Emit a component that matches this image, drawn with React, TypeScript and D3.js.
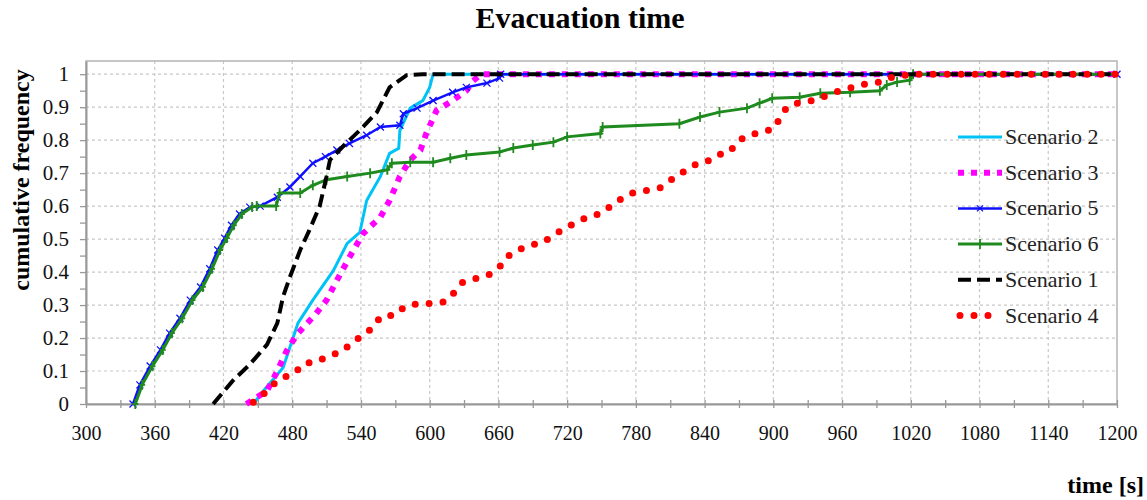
import React, { useEffect, useRef } from "react";
import * as d3 from "d3";

// ---- data ----
const s1Time = [411, 428, 443, 458, 467, 472, 478, 487, 495, 504, 510, 513, 524, 539, 554, 565, 580, 594, 1200];
const s1Freq = [0, 0.07, 0.12, 0.18, 0.245, 0.325, 0.385, 0.467, 0.527, 0.6, 0.69, 0.74, 0.78, 0.83, 0.885, 0.96, 0.997, 1, 1];

const s2Time = [446, 455, 472, 485, 498, 510, 516, 528, 539, 545, 557, 565, 573, 574, 583, 594, 600, 603, 1200];
const s2Freq = [0, 0.04, 0.11, 0.245, 0.315, 0.375, 0.405, 0.487, 0.52, 0.617, 0.69, 0.76, 0.775, 0.83, 0.897, 0.92, 0.96, 1, 1];

const s3Time = [440, 458, 467, 475, 484, 490, 501, 510, 519, 530, 542, 557, 565, 574, 583, 592, 597, 606, 620, 632, 638, 645, 1200];
const s3Freq = [0, 0.04, 0.1, 0.16, 0.21, 0.233, 0.275, 0.315, 0.375, 0.445, 0.517, 0.567, 0.617, 0.69, 0.74, 0.77, 0.82, 0.89, 0.92, 0.95, 0.98, 1, 1];

const s4Time = [446, 455, 463, 472, 482, 490, 501, 513, 523, 532, 542, 551, 557, 570, 578, 590, 602, 613, 622, 629, 640, 651, 661, 667, 677, 688, 699, 708, 718, 729, 738, 750, 759, 768, 777, 790, 801, 811, 821, 830, 840, 851, 862, 868, 878, 890, 901, 906, 912, 923, 935, 947, 958, 969, 982, 993, 1003, 1016, 1025, 1200];
const s4Freq = [0.005, 0.03, 0.058, 0.08, 0.093, 0.123, 0.127, 0.148, 0.158, 0.185, 0.21, 0.233, 0.265, 0.27, 0.295, 0.305, 0.305, 0.31, 0.34, 0.37, 0.38, 0.39, 0.415, 0.445, 0.467, 0.482, 0.49, 0.512, 0.533, 0.552, 0.568, 0.578, 0.603, 0.624, 0.64, 0.648, 0.655, 0.68, 0.703, 0.724, 0.73, 0.755, 0.764, 0.794, 0.815, 0.824, 0.836, 0.87, 0.9, 0.915, 0.92, 0.936, 0.95, 0.96, 0.972, 0.976, 0.99, 0.997, 1, 1];

const s5Time = [341, 347, 356, 365, 373, 382, 391, 400, 408, 415, 421, 427, 434, 443, 452, 467, 478, 487, 498, 509, 519, 530, 545, 557, 574, 577, 589, 603, 620, 632, 650, 661, 662, 1200];
const s5Freq = [0, 0.058, 0.115, 0.164, 0.215, 0.26, 0.315, 0.355, 0.41, 0.467, 0.503, 0.542, 0.576, 0.597, 0.6, 0.627, 0.658, 0.69, 0.73, 0.75, 0.77, 0.79, 0.815, 0.84, 0.845, 0.88, 0.897, 0.92, 0.945, 0.96, 0.973, 0.988, 1, 1];

const s6Time = [343, 349, 358, 367, 375, 384, 393, 402, 410, 417, 423, 429, 436, 445, 449, 466, 469, 487, 498, 510, 528, 548, 563, 567, 583, 603, 618, 632, 661, 673, 690, 708, 720, 749, 751, 818, 836, 853, 877, 888, 899, 923, 941, 967, 993, 999, 1008, 1019, 1022, 1200];
const s6Freq = [0, 0.058, 0.115, 0.164, 0.215, 0.26, 0.315, 0.355, 0.41, 0.467, 0.503, 0.542, 0.576, 0.597, 0.6, 0.6, 0.64, 0.64, 0.663, 0.68, 0.69, 0.7, 0.71, 0.73, 0.733, 0.733, 0.745, 0.755, 0.764, 0.776, 0.785, 0.794, 0.81, 0.82, 0.84, 0.85, 0.87, 0.885, 0.897, 0.912, 0.927, 0.93, 0.942, 0.945, 0.95, 0.967, 0.976, 0.982, 1, 1];

const xTicks = d3.range(300, 1201, 30);
const yTicks = d3.range(0, 1.0001, 0.05);

const series = [
  { name: "Scenario 2", t: s2Time, f: s2Freq, color: "#00c3f5", width: 3, dash: null, cap: "butt", marker: null },
  { name: "Scenario 3", t: s3Time, f: s3Freq, color: "#ff00ff", width: 6, dash: "6,7", cap: "butt", marker: null },
  { name: "Scenario 5", t: s5Time, f: s5Freq, color: "#1010ff", width: 2.5, dash: null, cap: "butt", marker: "x" },
  { name: "Scenario 6", t: s6Time, f: s6Freq, color: "#1f8b1f", width: 3, dash: null, cap: "butt", marker: "+" },
  { name: "Scenario 1", t: s1Time, f: s1Freq, color: "#000000", width: 4, dash: "13,6", cap: "butt", marker: null },
  { name: "Scenario 4", t: s4Time, f: s4Freq, color: "#ff0000", width: 7, dash: "0,14", cap: "round", marker: null },
];

const FONT = "'Liberation Serif', 'Times New Roman', serif";

export default function App() {
  const ref = useRef<SVGSVGElement>(null);

  useEffect(() => {
    const width = 1147, height = 500;
    const left = 86, right = 1117, bottom = 404, top = 61;

    const svg = d3.select(ref.current).attr("width", width).attr("height", height);
    svg.selectAll("*").remove();

    const x = d3.scaleLinear().domain([300, 1200]).range([left, right]);
    const y = d3.scaleLinear().domain([0, 1.04]).range([bottom, top]);

    // grid
    svg.append("g").selectAll("line").data(d3.range(0.1, 1.0001, 0.1)).join("line")
      .attr("x1", left).attr("x2", right).attr("y1", (d) => y(d)).attr("y2", (d) => y(d))
      .attr("stroke", "#c8c8c8").attr("stroke-width", 1.2).attr("stroke-dasharray", "3,3");
    svg.append("g").selectAll("line").data(d3.range(360, 1141, 60)).join("line")
      .attr("x1", (d) => x(d)).attr("x2", (d) => x(d)).attr("y1", top).attr("y2", bottom)
      .attr("stroke", "#c8c8c8").attr("stroke-width", 1.2).attr("stroke-dasharray", "3,3");

    // plot frame
    svg.append("rect").attr("x", left).attr("y", top).attr("width", right - left).attr("height", bottom - top)
      .attr("fill", "none").attr("stroke", "#b4b4b4").attr("stroke-width", 1.5);

    // axes
    const xAxis = svg.append("g").attr("transform", `translate(0,${bottom})`)
      .call(d3.axisBottom(x).tickValues(xTicks).tickSize(4).tickSizeOuter(0).tickPadding(18)
        .tickFormat((d: any) => (d % 60 === 0 ? String(d) : "")));
    xAxis.selectAll(".tick line").attr("y1", -4).attr("stroke", "#999").attr("stroke-width", 1.3);
    xAxis.select(".domain").attr("stroke", "#999").attr("stroke-width", 2);
    xAxis.selectAll("text").attr("font-family", FONT).attr("font-size", 20).attr("fill", "#111");

    const yAxis = svg.append("g").attr("transform", `translate(${left},0)`)
      .call(d3.axisLeft(y).tickValues(yTicks).tickSize(6).tickSizeOuter(0).tickPadding(11)
        .tickFormat((d: any) => (Math.round(d * 20) % 2 === 0 ? String(+d.toFixed(1)) : "")));
    yAxis.selectAll(".tick line").attr("stroke", "#999").attr("stroke-width", 1.3);
    yAxis.select(".domain").attr("stroke", "#999").attr("stroke-width", 2);
    yAxis.selectAll("text").attr("font-family", FONT).attr("font-size", 21).attr("fill", "#111");

    // series
    const line = d3.line<[number, number]>().x((d) => x(d[0])).y((d) => y(d[1]));
    series.forEach((s) => {
      const pts = s.t.map((t, i) => [t, s.f[i]] as [number, number]);
      svg.append("path").datum(pts).attr("d", line).attr("fill", "none")
        .attr("stroke", s.color).attr("stroke-width", s.width)
        .attr("stroke-dasharray", s.dash).attr("stroke-linecap", s.cap);
      if (s.marker === "x") {
        svg.append("g").selectAll("path").data(pts).join("path")
          .attr("d", (d) => { const cx = x(d[0]), cy = y(d[1]), r = 3.5; return `M${cx - r},${cy - r}L${cx + r},${cy + r}M${cx - r},${cy + r}L${cx + r},${cy - r}`; })
          .attr("stroke", s.color).attr("stroke-width", 1.3);
      } else if (s.marker === "+") {
        svg.append("g").selectAll("path").data(pts.slice(0, -1)).join("path")
          .attr("d", (d) => { const cx = x(d[0]), cy = y(d[1]), r = 5; return `M${cx},${cy - r}L${cx},${cy + r}M${cx - 3},${cy}L${cx + 3},${cy}`; })
          .attr("stroke", s.color).attr("stroke-width", 1.8);
      }
    });

    // legend
    const lg = svg.append("g");
    series.forEach((s, i) => {
      const ly = 137 + i * 35.7;
      lg.append("line").attr("x1", s.cap === "round" ? 960 : 958).attr("x2", s.cap === "round" ? 990 : 1002)
        .attr("y1", ly).attr("y2", ly).attr("stroke", s.color).attr("stroke-width", s.width)
        .attr("stroke-dasharray", s.dash).attr("stroke-linecap", s.cap);
      if (s.marker === "x") {
        lg.append("path").attr("d", `M977,${ly - 3}L983,${ly + 3}M977,${ly + 3}L983,${ly - 3}`).attr("stroke", s.color).attr("stroke-width", 1.3);
      } else if (s.marker === "+") {
        lg.append("path").attr("d", `M980,${ly - 5}L980,${ly + 5}`).attr("stroke", s.color).attr("stroke-width", 1.8);
      }
      lg.append("text").attr("x", 1005).attr("y", ly + 7).attr("font-family", FONT).attr("font-size", 22)
        .attr("fill", "#222").text(s.name);
    });

    // titles
    svg.append("text").attr("x", 580).attr("y", 28).attr("text-anchor", "middle").attr("font-family", FONT)
      .attr("font-size", 30).attr("font-weight", "bold").text("Evacuation time");
    svg.append("text").attr("transform", "translate(29,180) rotate(-90)").attr("text-anchor", "middle")
      .attr("font-family", FONT).attr("font-size", 24).attr("font-weight", "bold").text("cumulative frequency");
    svg.append("text").attr("x", 1144).attr("y", 493).attr("text-anchor", "end").attr("font-family", FONT)
      .attr("font-size", 24).attr("font-weight", "bold").text("time [s]");
  }, []);

  return <svg ref={ref} style={{ position: "absolute", left: 0, top: 0, background: "#fff" }} />;
}
